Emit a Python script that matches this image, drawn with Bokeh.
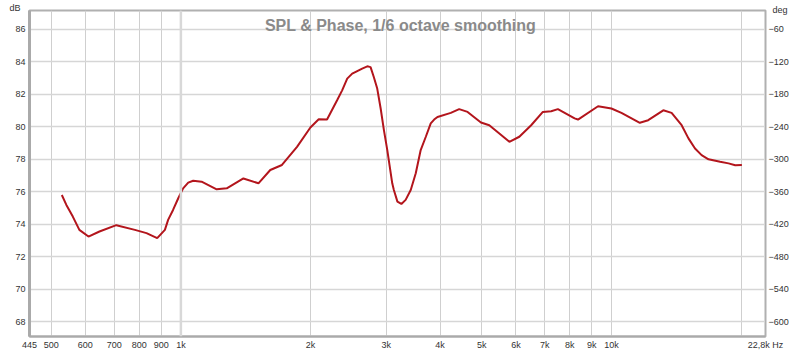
from bokeh.plotting import figure
from bokeh.models import (FixedTicker, LinearAxis, Range1d, Label, Span)
from bokeh.embed import file_html
from bokeh.resources import INLINE

# ---- data ----
freq_hz = [529, 542, 561, 581, 610, 647, 708, 782, 832, 881, 918, 934, 959,
           986, 1012, 1040, 1068, 1117, 1211, 1278, 1397, 1514, 1613, 1717,
           1861, 1999, 2090, 2185, 2306, 2369, 2434, 2500, 2568, 2637, 2710,
           2758, 2806, 2858, 2911, 2962, 3016, 3097, 3124, 3184, 3252, 3327,
           3419, 3512, 3606, 3706, 3805, 3875, 3945, 4236, 4430, 4634, 4977,
           5204, 5794, 6111, 6510, 6931, 7247, 7511, 8214, 8364, 9311, 10000,
           10551, 11643, 12176, 13199, 13799, 14560, 15100, 15640, 16200,
           16810, 17887, 18711, 19392, 20091]
spl_db = [75.80, 75.19, 74.47, 73.65, 73.24, 73.55, 73.94, 73.65, 73.45, 73.14,
          73.65, 74.27, 74.88, 75.60, 76.21, 76.56, 76.68, 76.62, 76.15, 76.21,
          76.82, 76.52, 77.34, 77.65, 78.77, 79.96, 80.47, 80.45, 81.64, 82.25,
          82.97, 83.28, 83.44, 83.59, 83.73, 83.68, 83.07, 82.36, 81.13, 79.80,
          78.57, 76.52, 76.11, 75.39, 75.25, 75.50, 76.11, 77.14, 78.57, 79.39,
          80.21, 80.45, 80.61, 80.86, 81.09, 80.92, 80.27, 80.10, 79.08, 79.39,
          80.10, 80.92, 80.96, 81.09, 80.52, 80.45, 81.27, 81.13, 80.86, 80.25,
          80.41, 81.02, 80.86, 80.10, 79.29, 78.67, 78.26, 78.00, 77.85, 77.75,
          77.63, 77.65]

x_ticks = [445, 500, 600, 700, 800, 900, 1000, 2000, 3000, 4000, 5000, 6000,
           7000, 8000, 9000, 10000, 20000, 22800]
x_tick_labels = ["445", "500", "600", "700", "800", "900", "1k", "2k", "3k",
                 "4k", "5k", "6k", "7k", "8k", "9k", "10k", "", "22,8k Hz"]
db_ticks = [68, 70, 72, 74, 76, 78, 80, 82, 84, 86]
deg_ticks = [-600, -540, -480, -420, -360, -300, -240, -180, -120, -60]

title_text = "SPL & Phase, 1/6 octave smoothing"

x_min, x_max = 445, 22800
db_min, db_max = 67.08, 87.17
deg_min, deg_max = -60 + (db_min - 86) * 30, -60 + (db_max - 86) * 30

FONT = "Liberation Sans"
LABEL_COLOR = "#333333"

p = figure(width=800, height=352, x_axis_type="log",
           x_range=Range1d(x_min, x_max), y_range=Range1d(db_min, db_max),
           output_backend="svg", toolbar_location=None,
           min_border_left=29, min_border_right=35,
           min_border_top=10, min_border_bottom=15)
p.background_fill_color = "white"
p.border_fill_color = "white"
p.outline_line_color = "#b0b0b0"
p.outline_line_width = 2

p.extra_y_ranges = {"deg": Range1d(deg_min, deg_max)}

# x axis
xa = p.xaxis[0]
xa.ticker = FixedTicker(ticks=x_ticks)
xa.major_label_overrides = {t: l for t, l in zip(x_ticks, x_tick_labels)}
xa.major_tick_line_color = None
xa.major_tick_out = 0
xa.major_tick_in = 0
xa.minor_tick_line_color = None
xa.minor_tick_out = 0
xa.axis_line_color = "#aaaaaa"
xa.axis_line_width = 2
xa.major_label_standoff = 3
xa.major_label_text_font = FONT
xa.major_label_text_font_size = "9px"
xa.major_label_text_color = LABEL_COLOR

# left y axis
ya = p.yaxis[0]
ya.ticker = FixedTicker(ticks=db_ticks)
ya.major_tick_line_color = None
ya.major_tick_out = 0
ya.major_tick_in = 0
ya.minor_tick_line_color = None
ya.minor_tick_out = 0
ya.axis_line_color = "#aaaaaa"
ya.axis_line_width = 3
ya.major_label_standoff = 4
ya.major_label_text_font = FONT
ya.major_label_text_font_size = "9px"
ya.major_label_text_color = LABEL_COLOR

# right y axis (deg)
ra = LinearAxis(y_range_name="deg", ticker=FixedTicker(ticks=deg_ticks))
ra.major_tick_line_color = None
ra.major_tick_out = 0
ra.major_tick_in = 0
ra.minor_tick_line_color = None
ra.minor_tick_out = 0
ra.axis_line_color = "#b0b0b0"
ra.axis_line_width = 1
ra.major_label_standoff = 3
ra.major_label_text_font = FONT
ra.major_label_text_font_size = "9px"
ra.major_label_text_color = LABEL_COLOR
p.add_layout(ra, "right")

# grids
p.xgrid.grid_line_color = "#cfcfcf"
p.xgrid.grid_line_width = 1
p.ygrid.grid_line_color = "#d6d6d6"
p.ygrid.grid_line_width = 1.5
p.add_layout(Span(location=1000, dimension="height", line_color="#d8d8d8",
                  line_width=2.5))

# curve
p.line(freq_hz, spl_db, line_color="#b3151c", line_width=2)

# texts
p.add_layout(Label(x=371, y=311, x_units="screen", y_units="screen",
                   text=title_text, text_align="center",
                   text_baseline="alphabetic", text_font=FONT,
                   text_font_style="bold", text_font_size="16px",
                   text_color="#8a8a8a"))
p.add_layout(Label(x=743, y=1, x_units="screen", y_units="screen",
                   text="deg", text_align="left", text_baseline="alphabetic",
                   text_font=FONT, text_font_size="9px",
                   text_color=LABEL_COLOR), "above")
p.add_layout(Label(x=8, y=329, x_units="screen", y_units="screen",
                   text="dB", text_align="left", text_baseline="alphabetic",
                   text_font=FONT, text_font_size="9px",
                   text_color=LABEL_COLOR), "left")

open("out.html", "w").write(file_html(p, INLINE))
